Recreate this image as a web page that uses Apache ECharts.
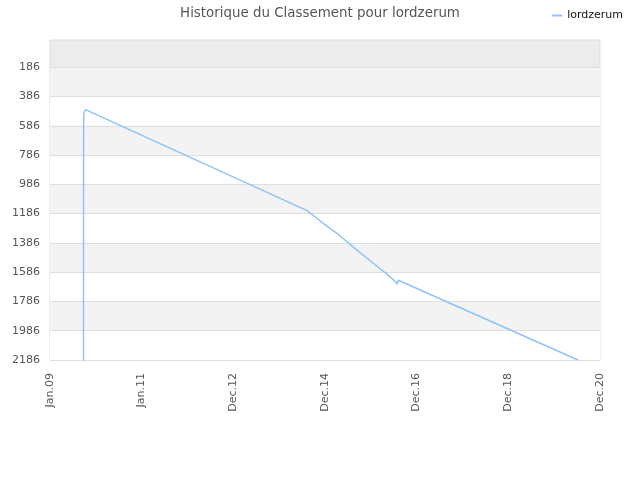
<!DOCTYPE html>
<html>
<head>
<meta charset="utf-8">
<script src="https://cdn.jsdelivr.net/npm/echarts@6/dist/echarts.min.js"></script>
<style>
  html, body { margin: 0; padding: 0; background: #fff; }
  #chart { width: 640px; height: 480px; }
</style>
</head>
<body>
<div id="chart"></div>
<script>
var dates = ['2009-09-25', '2009-09-25', '2009-09-26', '2009-09-29', '2009-10-11',
             '2014-08-11', '2014-12-18', '2015-04-30', '2015-09-10', '2016-01-21',
             '2016-06-02', '2016-07-20', '2016-07-28', '2016-08-07', '2020-07-09'];
var ranks = [2600, 1100, 546, 496, 476,
             1166, 1252, 1337, 1434, 1525,
             1617, 1655, 1669, 1641, 2186];
var yTicks = [186, 386, 586, 786, 986, 1186, 1386, 1586, 1786, 1986, 2186];
var xTickDates = ['2009-01-01', '2011-01-01', '2012-12-31', '2014-12-31', '2016-12-31', '2018-12-31', '2020-12-31'];
var xTickLabels = ['Jan.09', 'Jan.11', 'Dec.12', 'Dec.14', 'Dec.16', 'Dec.18', 'Dec.20'];

// dates as plain timestamps so the value axis can take custom ticks
function toTime(s) {
    var p = s.split('-');
    return Date.UTC(+p[0], +p[1] - 1, +p[2]);
}

var xTicks = xTickDates.map(toTime);
var seriesData = dates.map(function (d, i) {
    return [toTime(d), ranks[i]];
});

var chart = echarts.init(document.getElementById('chart'));

var option = {
    animation: false,
    title: {
        text: 'Historique du Classement pour lordzerum',
        left: 'center',
        top: 2,
        textStyle: {
            fontFamily: 'DejaVu Sans',
            fontSize: 13.4,
            fontWeight: 'normal',
            color: '#555'
        }
    },
    legend: {
        right: 12,
        top: 5,
        icon: 'rect',
        itemWidth: 10,
        itemHeight: 2,
        textStyle: {
            fontFamily: 'DejaVu Sans',
            fontSize: 11,
            color: '#111'
        },
        data: ['lordzerum']
    },
    grid: {
        left: 50,
        right: 40,
        top: 40,
        bottom: 120,
        show: true,
        backgroundColor: '#ececec',
        borderColor: '#dcdcdc',
        borderWidth: 1
    },
    xAxis: {
        type: 'value',
        min: toTime('2009-01-01'),
        max: toTime('2020-12-31'),
        axisLine: { show: false },
        axisTick: { show: false, customValues: xTicks },
        splitLine: { show: false },
        axisLabel: {
            customValues: xTicks,
            rotate: 90,
            margin: 13,
            fontFamily: 'DejaVu Sans',
            fontSize: 11,
            color: '#555',
            formatter: function (value) {
                var best = 0;
                for (var i = 1; i < xTicks.length; i++) {
                    if (Math.abs(xTicks[i] - value) < Math.abs(xTicks[best] - value)) best = i;
                }
                return xTickLabels[best];
            }
        }
    },
    yAxis: {
        type: 'value',
        inverse: true,
        min: 0,
        max: 2186,
        axisLine: { show: false },
        axisTick: { show: false, customValues: yTicks },
        axisLabel: {
            customValues: yTicks,
            margin: 10,
            fontFamily: 'DejaVu Sans',
            fontSize: 11,
            color: '#555',
            formatter: function (v) { return String(v); }
        },
        splitLine: {
            show: true,
            lineStyle: { color: '#dedede', width: 1 }
        },
        splitArea: {
            show: true,
            areaStyle: { color: ['#f3f3f3', '#ffffff'] }
        }
    },
    series: [{
        name: 'lordzerum',
        type: 'line',
        data: seriesData,
        showSymbol: false,
        symbol: 'none',
        clip: true,
        color: '#8fc3f7',
        lineStyle: { color: '#8fc3f7', width: 1.5 }
    }]
};

chart.setOption(option);
</script>
</body>
</html>
